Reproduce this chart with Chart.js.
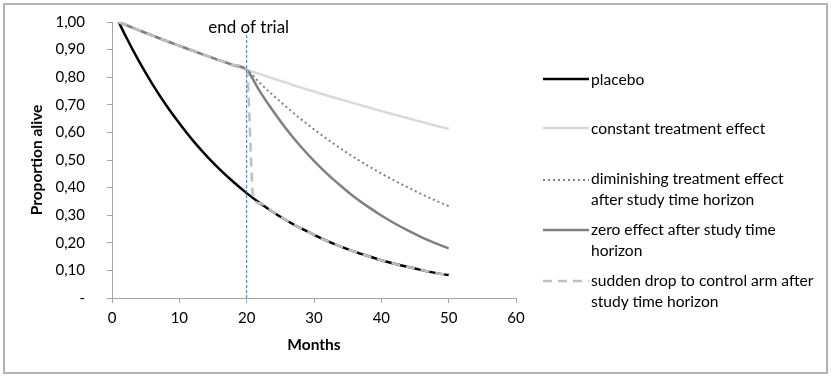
<!DOCTYPE html>
<html>
<head>
<meta charset="utf-8">
<script src="https://cdn.jsdelivr.net/npm/chart.js@4.4.1/dist/chart.umd.min.js"></script>
<style>
html,body{margin:0;padding:0;background:#fff;}
#wrap{position:relative;width:831px;height:378px;overflow:hidden;background:#fff;}
#frame{position:absolute;left:3px;top:3px;width:825px;height:371px;border:2px solid #b4b4b4;box-sizing:border-box;pointer-events:none;}
canvas{position:absolute;left:0;top:0;}
.lgline{position:absolute;left:543px;width:46px;height:6px;}
.lgtext{position:absolute;left:591px;font-family:Lato,"Noto Sans",sans-serif;font-size:15.6px;line-height:20.5px;color:#000;white-space:nowrap;}
</style>
</head>
<body>
<div id="wrap">
  <canvas id="c" width="831" height="378"></canvas>
  <div id="frame"></div>
  <svg class="lgline" style="top:76px" viewBox="0 0 46 6"><line x1="0" y1="3" x2="46" y2="3" stroke="#000000" stroke-width="2.5"/></svg>
  <div class="lgtext" style="top:69px">placebo</div>
  <svg class="lgline" style="top:125px" viewBox="0 0 46 6"><line x1="0" y1="3" x2="46" y2="3" stroke="#d9d9d9" stroke-width="2.5"/></svg>
  <div class="lgtext" style="top:118px">constant treatment effect</div>
  <svg class="lgline" style="top:177px" viewBox="0 0 46 6"><line x1="0" y1="3" x2="46" y2="3" stroke="#808080" stroke-width="2" stroke-dasharray="2,3"/></svg>
  <div class="lgtext" style="top:168px">diminishing treatment effect<br>after study time horizon</div>
  <svg class="lgline" style="top:227px" viewBox="0 0 46 6"><line x1="0" y1="3" x2="46" y2="3" stroke="#808080" stroke-width="2.5"/></svg>
  <div class="lgtext" style="top:219px">zero effect after study time<br>horizon</div>
  <svg class="lgline" style="top:278px" viewBox="0 0 46 6"><line x1="0" y1="3" x2="46" y2="3" stroke="#bfbfbf" stroke-width="2.5" stroke-dasharray="9,6"/></svg>
  <div class="lgtext" style="top:270px">sudden drop to control arm after<br>study time horizon</div>
</div>
<script>
// ---- data ----
const months = [1,2,4,6,8,10,12,14,16,18,20,22,24,26,28,30,32,34,36,38,40,42,44,46,48,50];
const placebo = [1.000,0.950,0.858,0.775,0.700,0.633,0.571,0.516,0.466,0.421,0.380,0.343,0.310,0.280,0.253,0.229,0.206,0.186,0.168,0.152,0.137,0.124,0.112,0.101,0.091,0.083];
const constantEffect = [1.000,0.990,0.970,0.951,0.932,0.914,0.896,0.878,0.861,0.844,0.827,0.811,0.795,0.779,0.763,0.748,0.733,0.719,0.705,0.691,0.677,0.664,0.651,0.638,0.625,0.613];
const diminishingEffect = [1.000,0.990,0.970,0.951,0.932,0.914,0.896,0.878,0.861,0.844,0.827,0.778,0.733,0.690,0.649,0.611,0.575,0.541,0.509,0.479,0.451,0.425,0.400,0.376,0.354,0.333];
const zeroEffect = [1.000,0.990,0.970,0.951,0.932,0.914,0.896,0.878,0.861,0.844,0.827,0.747,0.675,0.609,0.550,0.497,0.449,0.406,0.366,0.331,0.299,0.270,0.244,0.220,0.199,0.180];
const suddenMonths = [1,2,4,6,8,10,12,14,16,18,20,21,22,24,26,28,30,32,34,36,38,40,42,44,46,48,50];
const suddenDrop = [1.000,0.990,0.970,0.951,0.932,0.914,0.896,0.878,0.861,0.844,0.827,0.361,0.343,0.310,0.280,0.253,0.229,0.206,0.186,0.168,0.152,0.137,0.124,0.112,0.101,0.091,0.083];
const trialEndMonths = [20,20];
const trialEndLine = [0,0.98];
const trialEndLabel = 'end of trial';
const xTickLabels = ['0','10','20','30','40','50','60'];
const yTickLabels = ['-','0,10','0,20','0,30','0,40','0,50','0,60','0,70','0,80','0,90','1,00'];

const pts = (xs, ys) => xs.map((x, i) => ({x: x, y: ys[i]}));
const FONT = 'Lato, "Noto Sans", sans-serif';

const labelPlugin = {
  id: 'trialLabel',
  afterDatasetsDraw(chart) {
    const {ctx, scales} = chart;
    const x = scales.x.getPixelForValue(trialEndMonths[0]) + 2;
    const y = chart.chartArea.top + 11;
    ctx.save();
    ctx.font = '17px ' + FONT;
    ctx.fillStyle = '#000';
    ctx.textAlign = 'center';
    ctx.textBaseline = 'alphabetic';
    ctx.fillText(trialEndLabel, x, y);
    ctx.restore();
  }
};

const common = {pointRadius: 0, fill: false, cubicInterpolationMode: 'monotone'};

new Chart(document.getElementById('c'), {
  type: 'line',
  data: {
    datasets: [
      Object.assign({label: 'end of trial line', data: pts(trialEndMonths, trialEndLine), borderColor: '#4472C4', borderWidth: 1, borderDash: [3,2], order: -1}, common, {cubicInterpolationMode: 'default', tension: 0}),
      Object.assign({label: 'sudden drop to control arm after study time horizon', data: pts(suddenMonths, suddenDrop), borderColor: '#bfbfbf', borderWidth: 2.5, borderDash: [9,6], order: 0}, common),
      Object.assign({label: 'zero effect after study time horizon', data: pts(months, zeroEffect), borderColor: '#808080', borderWidth: 2.5, order: 1}, common),
      Object.assign({label: 'diminishing treatment effect after study time horizon', data: pts(months, diminishingEffect), borderColor: '#808080', borderWidth: 2, borderDash: [2,3], order: 2}, common),
      Object.assign({label: 'constant treatment effect', data: pts(months, constantEffect), borderColor: '#d9d9d9', borderWidth: 2.5, order: 3}, common),
      Object.assign({label: 'placebo', data: pts(months, placebo), borderColor: '#000000', borderWidth: 2.5, order: 4}, common)
    ]
  },
  options: {
    responsive: false,
    animation: false,
    devicePixelRatio: 1,
    layout: {padding: {left: 12, right: 315, top: 22, bottom: 10}},
    plugins: {legend: {display: false}, tooltip: {enabled: false}},
    scales: {
      x: {
        type: 'linear', min: 0, max: 60,
        afterFit(s) { s.height = 70; },
        ticks: {stepSize: 10, color: '#000', padding: 6, font: {family: FONT, size: 15},
          callback: (v) => xTickLabels[Math.round(v / 10)]},
        grid: {display: true, drawOnChartArea: false, drawTicks: true, tickLength: 5, color: '#a6a6a6'},
        border: {display: true, color: '#a6a6a6', width: 1},
        title: {display: true, text: 'Months', color: '#000', font: {family: FONT, size: 15.5, weight: 'bold'}, padding: {bottom: 14}}
      },
      y: {
        min: 0, max: 1,
        afterFit(s) { s.width = 100; s.paddingTop = 0; s.paddingBottom = 0; },
        ticks: {stepSize: 0.1, color: '#000', padding: 22, font: {family: FONT, size: 15},
          callback: (v) => yTickLabels[Math.round(v * 10)]},
        grid: {display: true, drawOnChartArea: false, drawTicks: true, tickLength: 5, color: '#a6a6a6'},
        border: {display: true, color: '#a6a6a6', width: 1},
        title: {display: true, text: 'Proportion alive', color: '#000', font: {family: FONT, size: 15.5, weight: 'bold'}, padding: {top: 16}}
      }
    }
  },
  plugins: [labelPlugin]
});
</script>
</body>
</html>
